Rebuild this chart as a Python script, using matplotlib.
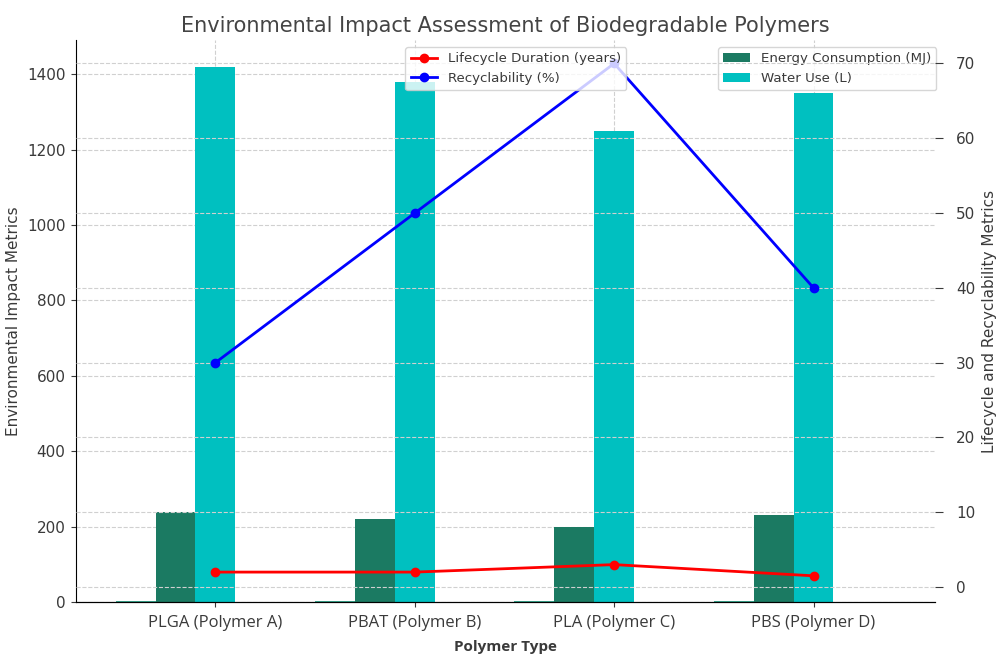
import numpy as np
import matplotlib
matplotlib.use("Agg")
import matplotlib.pyplot as plt

# === Data ===
polymers = ["PLGA (Polymer A)", "PBAT (Polymer B)", "PLA (Polymer C)", "PBS (Polymer D)"]
energy_mj = [240, 220, 200, 230]
water_l = [1420, 1380, 1250, 1350]
lifecycle_years = [2, 2, 3, 1.5]
recyclability_pct = [30, 50, 70, 40]

TEXT = "#3a3a3a"
plt.rcParams["text.color"] = TEXT
plt.rcParams["axes.labelcolor"] = TEXT
plt.rcParams["xtick.color"] = TEXT
plt.rcParams["ytick.color"] = TEXT

x = np.arange(len(polymers))
w = 0.2

fig = plt.figure(figsize=(9.98, 6.57), dpi=100)
ax1 = fig.add_axes([0.076, 0.0837, 0.861, 0.855])

# bars on the left axis
ax1.bar(x - 2 * w, lifecycle_years, w, color="#3aa88f")
ax1.bar(x - w, energy_mj, w, color="#1b7a62", label="Energy Consumption (MJ)")
ax1.bar(x, water_l, w, color="#00c0c0", label="Water Use (L)")
ax1.set_xlim(-0.7, 3.61)
ax1.set_ylim(0, 1490)
ax1.set_xticks(x)
ax1.set_xticklabels(polymers, fontsize=12, family="Open Sans")
ax1.tick_params(axis="x", pad=6)
ax1.set_xlabel("Polymer Type", fontsize=11, family="Open Sans", fontweight="bold", labelpad=6)
ax1.set_ylabel("Environmental Impact Metrics", fontsize=11, labelpad=4)
ax1.tick_params(axis="y", labelsize=11, pad=4)
ax1.grid(True, linestyle="--", color="#d0d0d0", linewidth=0.8)
ax1.set_axisbelow(True)
for s in ["top", "right"]:
    ax1.spines[s].set_visible(False)
ax1.legend(loc="upper right", bbox_to_anchor=(1.009, 1.0), fontsize=9.6)

# lines on the right axis
ax2 = ax1.twinx()
ax2.plot(x, lifecycle_years, color="red", marker="o", markersize=6, linewidth=2,
         label="Lifecycle Duration (years)")
ax2.plot(x, recyclability_pct, color="blue", marker="o", markersize=6, linewidth=2,
         label="Recyclability (%)")
ax2.set_ylim(-2.0, 73.1)
ax2.set_ylabel("Lifecycle and Recyclability Metrics", fontsize=11, labelpad=5)
ax2.tick_params(axis="y", labelsize=11, length=6, pad=9)
ax2.grid(True, axis="y", linestyle="--", color="#d0d0d0", linewidth=0.8)
for s in ["top", "right", "left"]:
    ax2.spines[s].set_visible(False)
ax2.legend(loc="upper center", bbox_to_anchor=(0.512, 1.0), fontsize=9.6)

ax1.set_title("Environmental Impact Assessment of Biodegradable Polymers",
              fontsize=15, pad=6, color="#444444")

fig.savefig("out.png", dpi=100)
